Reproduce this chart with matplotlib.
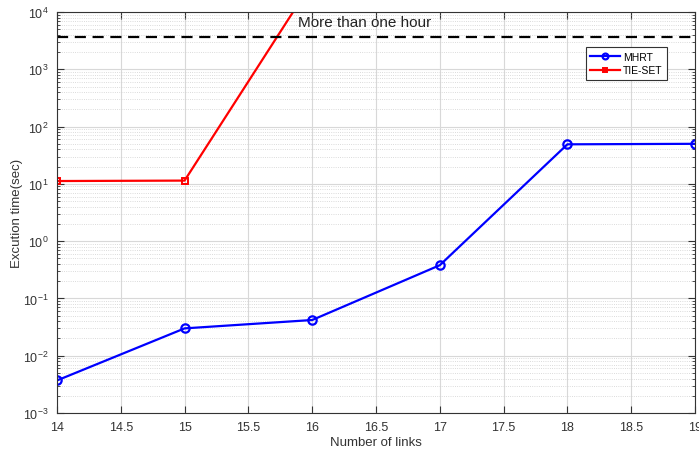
import numpy as np
import matplotlib
matplotlib.use('Agg')
import matplotlib.pyplot as plt

# Execution time vs number of links
links = [14, 15, 16, 17, 18, 19]
mhrt = [0.0037, 0.030, 0.042, 0.38, 49.0, 50.0]
tie_links = [14, 15, 16]
tie_set = [11.2, 11.4, 3.3e4]
one_hour = 3600.0

plt.rc('font', family=['Liberation Sans', 'DejaVu Sans'], size=8.5)
plt.rc('axes', unicode_minus=False)
fig = plt.figure(figsize=(6.99, 4.56), dpi=100)
ax = fig.add_axes([0.0815, 0.0921, 0.9128, 0.8794])

ax.set_yscale('log')
ax.set_xlim(14, 19)
ax.set_ylim(1e-3, 1e4)

ax.plot(links, mhrt, color='blue', lw=1.6, marker='o', ms=6, mfc='none',
        mew=1.6, label='MHRT')
ax.plot(tie_links, tie_set, color='red', lw=1.6, marker='s', ms=5, mfc='none',
        mew=1.4, label='TIE-SET')
ax.axhline(one_hour, color='black', ls=(0, (5, 3)), lw=1.6)
ax.text(15.89, 6700, 'More than one hour', fontsize=11, va='center',
        color='#222222')

ax.set_xticks(np.arange(14, 19.01, 0.5))
ax.set_xticklabels(['14', '14.5', '15', '15.5', '16', '16.5', '17', '17.5',
                    '18', '18.5', '19'])
ax.grid(True, which='major', color='#d8d8d8', lw=0.8)
ax.grid(True, which='minor', axis='y', color='#cfcfcf', lw=0.6, ls=':')
ax.tick_params(which='both', direction='in', top=True, right=True,
               colors='#333333', labelcolor='#333333', labelsize=9)
ax.tick_params(which='major', length=5, pad=6)
ax.tick_params(which='minor', length=2.5)
for s in ax.spines.values():
    s.set_color('#333333')

ax.set_xlabel('Number of links', fontsize=9.5, color='#333333', labelpad=2)
ax.set_ylabel('Excution time(sec)', fontsize=9.5, color='#333333')
ax.yaxis.set_label_coords(-0.054, 0.5)

leg = ax.legend(loc='upper right', bbox_to_anchor=(0.956, 0.913), fontsize=7.5,
                fancybox=False, edgecolor='#333333', framealpha=1,
                handlelength=2.8, borderpad=0.45, labelspacing=0.35,
                handletextpad=0.3, markerscale=0.7, borderaxespad=0)
leg.get_frame().set_linewidth(0.8)

fig.savefig('out.png', dpi=100)
